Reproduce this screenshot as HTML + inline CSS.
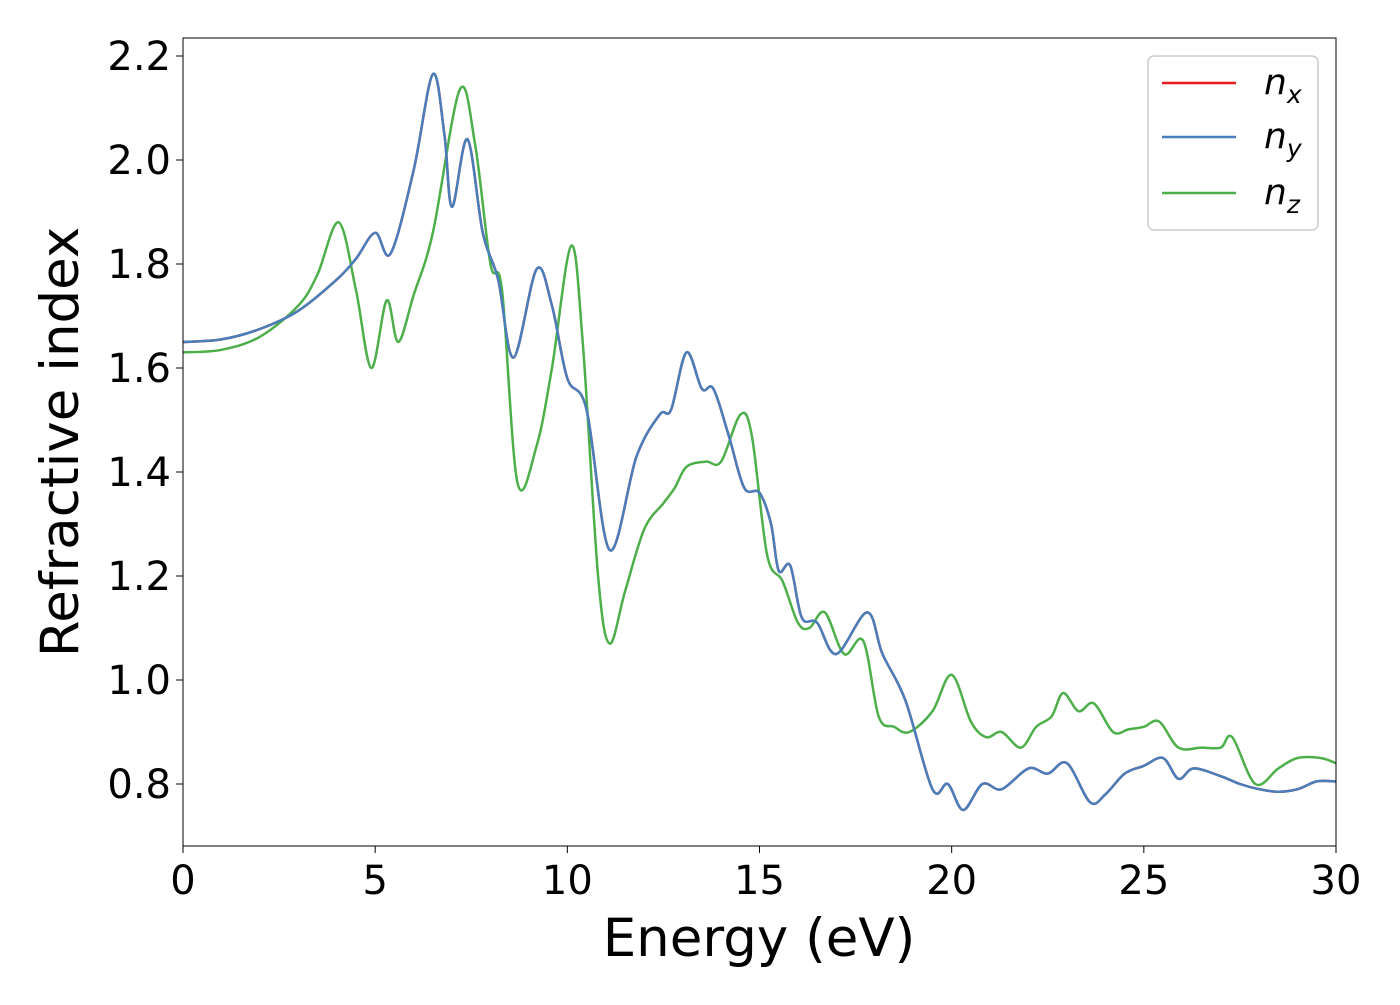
<!DOCTYPE html>
<html><head><meta charset="utf-8"><style>
body{margin:0;background:#fff}
svg text{font-family:"DejaVu Sans","Liberation Sans",sans-serif}
</style></head><body>
<svg id="chart" width="1400" height="1000" xmlns="http://www.w3.org/2000/svg"></svg>
<script>
const energyBlue=[0,1,2,3,4,4.5,5,5.4,6,6.5,6.8,7.0,7.4,7.8,8.2,8.6,9.2,9.6,10,10.5,11.1,11.8,12.4,12.7,13.1,13.5,13.8,14.2,14.6,15.0,15.3,15.5,15.8,16.1,16.5,17.0,17.8,18.2,18.8,19.5,19.9,20.3,20.8,21.3,22.0,22.5,23.0,23.6,24.0,24.5,25.0,25.5,25.9,26.3,27.0,27.5,28.0,28.5,29.0,29.5,30];
const nxy=[1.65,1.655,1.675,1.71,1.77,1.81,1.86,1.82,1.98,2.165,2.05,1.91,2.04,1.86,1.77,1.62,1.79,1.72,1.58,1.52,1.25,1.43,1.51,1.52,1.63,1.56,1.56,1.47,1.37,1.36,1.30,1.21,1.22,1.12,1.11,1.05,1.13,1.05,0.96,0.79,0.80,0.75,0.80,0.79,0.83,0.82,0.84,0.765,0.78,0.82,0.835,0.85,0.81,0.83,0.815,0.80,0.79,0.785,0.79,0.805,0.805];
const energyGreen=[0,1,2,3,3.5,4.05,4.5,4.9,5.3,5.6,6.0,6.5,7.2,7.6,8.0,8.3,8.7,9.2,9.6,10.1,10.4,10.8,11.1,11.5,12.0,12.5,12.8,13.1,13.6,14.0,14.5,14.8,15.2,15.6,16.0,16.3,16.7,17.2,17.7,18.1,18.5,18.9,19.5,20.0,20.5,20.9,21.3,21.8,22.2,22.6,22.9,23.3,23.7,24.2,24.6,25.0,25.4,25.9,26.5,27.0,27.3,27.9,28.5,29.0,29.6,30];
const nz=[1.63,1.635,1.66,1.72,1.78,1.88,1.75,1.60,1.73,1.65,1.74,1.86,2.135,2.03,1.80,1.75,1.38,1.45,1.60,1.835,1.65,1.20,1.07,1.17,1.29,1.34,1.37,1.41,1.42,1.42,1.51,1.47,1.24,1.19,1.11,1.10,1.13,1.05,1.075,0.93,0.91,0.90,0.94,1.01,0.92,0.89,0.90,0.87,0.91,0.93,0.975,0.94,0.955,0.90,0.905,0.91,0.92,0.87,0.87,0.87,0.89,0.80,0.83,0.85,0.85,0.84];
const xTicks=[0,5,10,15,20,25,30];
const yTicks=[0.8,1.0,1.2,1.4,1.6,1.8,2.0,2.2];

const L=183,R=1336,T=38,B=846;
const xs=v=>L+(v-0)/30*(R-L);
const ys=v=>784-(v-0.8)*520;
const svg=document.getElementById('chart');
const NS='http://www.w3.org/2000/svg';
function mk(tag,attrs,parent){const e=document.createElementNS(NS,tag);for(const k in attrs)e.setAttribute(k,attrs[k]);(parent||svg).appendChild(e);return e;}
function path(xv,yv){const p=xv.map((x,i)=>[xs(x),ys(yv[i])]);let d='M'+p[0][0]+','+p[0][1];
 for(let i=0;i<p.length-1;i++){const p0=p[Math.max(0,i-1)],p1=p[i],p2=p[i+1],p3=p[Math.min(p.length-1,i+2)];
 const c1=[p1[0]+(p2[0]-p0[0])/6,p1[1]+(p2[1]-p0[1])/6],c2=[p2[0]-(p3[0]-p1[0])/6,p2[1]-(p3[1]-p1[1])/6];
 d+=' C'+c1[0]+','+c1[1]+' '+c2[0]+','+c2[1]+' '+p2[0]+','+p2[1];}return d;}
const defs=mk('defs',{});const cp=mk('clipPath',{id:'clip'},defs);mk('rect',{x:L,y:T,width:R-L,height:B-T},cp);
const g=mk('g',{'clip-path':'url(#clip)'});
let e;
e=mk('path',{d:path(energyBlue,nxy),fill:'none',stroke:'#e41a1c','stroke-width':2.5},g);


e=mk('path',{d:path(energyGreen,nz),fill:'none',stroke:'#4daf4a','stroke-width':2.5},g);


e=mk('path',{d:path(energyBlue,nxy),fill:'none',stroke:'#477ebb','stroke-width':2.5},g);


e=mk('rect',{x:L,y:T,width:R-L,height:B-T,fill:'none',stroke:'#000','stroke-width':1});


xTicks.forEach(t=>{mk('line',{x1:xs(t),x2:xs(t),y1:B,y2:B+7,stroke:'#000','stroke-width':1});
 e=mk('text',{x:xs(t),y:B+48,'font-size':40,'text-anchor':'middle'});e.textContent=t;
 
 });
yTicks.forEach(t=>{mk('line',{x1:L-7,x2:L,y1:ys(t),y2:ys(t),stroke:'#000','stroke-width':1});
 e=mk('text',{x:L-12,y:ys(t)+14,'font-size':40,'text-anchor':'end'});e.textContent=t.toFixed(1);
 
 });
e=mk('text',{x:759,y:956,'font-size':53,'text-anchor':'middle'});e.textContent='Energy (eV)';


e=mk('text',{x:78,y:442,'font-size':53,'text-anchor':'middle',transform:'rotate(-90 78 442)'});e.textContent='Refractive index';


const lg=mk('g',{});


mk('rect',{x:1148,y:56,width:170,height:174,rx:6,fill:'#fff',stroke:'#ccc','stroke-width':1.5},lg);
[['#e41a1c','x',83],['#477ebb','y',137],['#4daf4a','z',193]].forEach(([c,s,y])=>{
 mk('line',{x1:1162,x2:1236,y1:y,y2:y,stroke:c,'stroke-width':2.5},lg);
 const t=mk('text',{x:1264,y:y+11,'font-size':36,'font-style':'italic'},lg);
 t.innerHTML='n<tspan font-size="25" dy="9">'+s+'</tspan>';
 
 });
</script>
</body></html>
